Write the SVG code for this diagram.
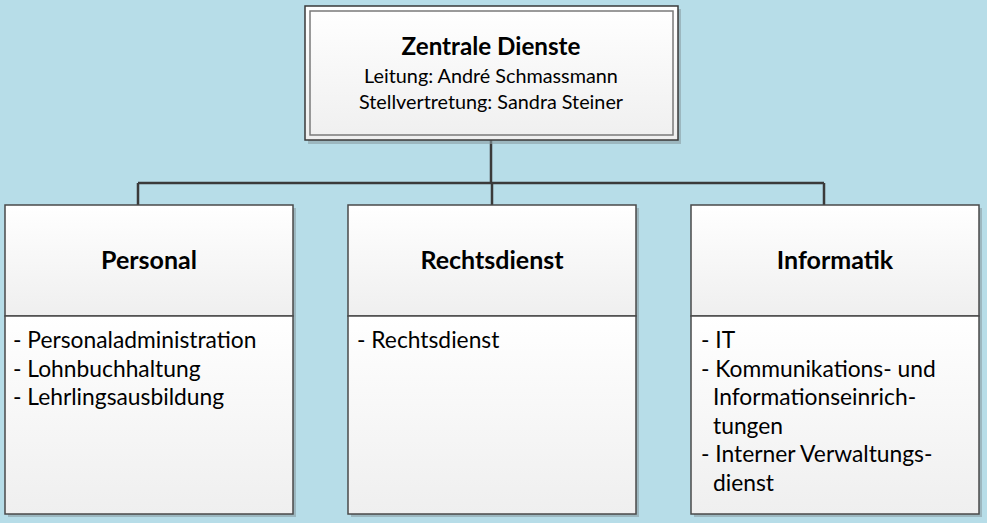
<svg xmlns="http://www.w3.org/2000/svg" width="987" height="523" viewBox="0 0 987 523">
<defs>
<linearGradient id="g" x1="0" y1="0" x2="0" y2="1">
<stop offset="0" stop-color="#ffffff"/>
<stop offset="1" stop-color="#efefef"/>
</linearGradient>
<style>
.t{font-family:Lato,"Open Sans","Liberation Sans",sans-serif;fill:#000}
.h{font-size:25px;font-weight:bold;text-anchor:middle}
.b{font-size:22.8px}
.s{font-size:19.8px;text-anchor:middle}
.box{fill:url(#g);stroke:#4a4a4a;stroke-width:1.5}
.sh{fill:#8a9ea4;opacity:0.6}
.ln{stroke:#3a3a3a;stroke-width:2.5;fill:none}
</style>
</defs>
<rect x="0" y="0" width="987" height="523" fill="#b7dde8"/>
<g id="connectors">
<path class="ln" d="M491 140 V183 M138 183 H824 M138 183 V205 M492 183 V205 M824 183 V205"/>
</g>
<g id="zentrale">
<rect class="sh" x="308" y="9" width="373" height="135"/>
<rect x="305" y="6" width="373" height="134" fill="url(#g)" stroke="#3a3a3a" stroke-width="1.5"/>
<rect x="310" y="11" width="363" height="124" fill="none" stroke="#7a7a7a" stroke-width="1.5"/>
<text class="t h" x="491" y="55" style="font-size:24.2px">Zentrale Dienste</text>
<text class="t s" x="491" y="83">Leitung: André Schmassmann</text>
<text class="t s" x="491" y="109">Stellvertretung: Sandra Steiner</text>
</g>
<g id="personal">
<rect class="sh" x="8" y="208" width="288" height="309"/>
<rect class="box" x="5" y="205" width="288" height="111"/>
<rect class="box" x="5" y="316" width="288" height="198"/>
<text class="t h" x="149" y="269">Personal</text>
<text class="t b" x="13" y="348">- Personaladministration</text>
<text class="t b" x="13" y="376.5">- Lohnbuchhaltung</text>
<text class="t b" x="13" y="405">- Lehrlingsausbildung</text>
</g>
<g id="rechtsdienst">
<rect class="sh" x="351" y="208" width="288" height="309"/>
<rect class="box" x="348" y="205" width="288" height="111"/>
<rect class="box" x="348" y="316" width="288" height="198"/>
<text class="t h" x="492" y="269">Rechtsdienst</text>
<text class="t b" x="357" y="348">- Rechtsdienst</text>
</g>
<g id="informatik">
<rect class="sh" x="694" y="208" width="288" height="309"/>
<rect class="box" x="691" y="205" width="288" height="111"/>
<rect class="box" x="691" y="316" width="288" height="198"/>
<text class="t h" x="835" y="269">Informatik</text>
<text class="t b" x="701" y="348">- IT</text>
<text class="t b" x="701" y="376.5">- Kommunikations- und</text>
<text class="t b" x="713" y="405">Informationseinrich-</text>
<text class="t b" x="713" y="433.5">tungen</text>
<text class="t b" x="701" y="462">- Interner Verwaltungs-</text>
<text class="t b" x="713" y="490.5">dienst</text>
</g>
</svg>
